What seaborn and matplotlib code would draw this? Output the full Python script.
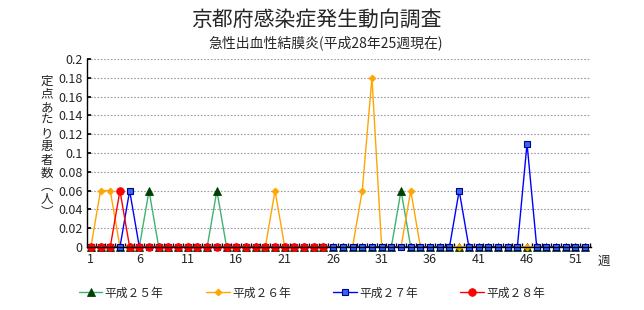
import matplotlib
matplotlib.use("Agg")
import matplotlib.pyplot as plt
import seaborn as sns
import numpy as np
import pandas as pd

weeks = list(range(1, 53))
h25 = [0, 0, 0, 0, 0, 0, 0.06, 0, 0, 0, 0, 0, 0, 0.06, 0, 0, 0, 0, 0, 0,
       0, 0, 0, 0, 0, 0, 0, 0, 0, 0, 0, 0, 0.06, 0, 0, 0, 0, 0, 0, 0,
       0, 0, 0, 0, 0, 0, 0, 0, 0, 0, 0, 0]
h26 = [0, 0.06, 0.06, 0, 0, 0, 0, 0, 0, 0, 0, 0, 0, 0, 0, 0, 0, 0, 0, 0.06,
       0, 0, 0, 0, 0, 0, 0, 0, 0.06, 0.18, 0, 0, 0, 0.06, 0, 0, 0, 0, 0, 0,
       0, 0, 0, 0, 0, 0, 0, 0, 0, 0, 0, 0]
h27 = [0, 0, 0, 0, 0.06, 0, 0, 0, 0, 0, 0, 0, 0, 0, 0, 0, 0, 0, 0, 0,
       0, 0, 0, 0, 0, 0, 0, 0, 0, 0, 0, 0, 0, 0, 0, 0, 0, 0, 0.06, 0,
       0, 0, 0, 0, 0, 0.11, 0, 0, 0, 0, 0, 0]
h28 = [0, 0, 0, 0.06, 0, 0, 0, 0, 0, 0, 0, 0, 0, 0, 0, 0, 0, 0, 0, 0,
       0, 0, 0, 0, 0]
series_names = ["平成２５年", "平成２６年", "平成２７年", "平成２８年"]
x_tick_labels = [1, 6, 11, 16, 21, 26, 31, 36, 41, 46, 51]
y_ticks = [0, 0.02, 0.04, 0.06, 0.08, 0.1, 0.12, 0.14, 0.16, 0.18, 0.2]
title = "京都府感染症発生動向調査"
subtitle = "急性出血性結膜炎(平成28年25週現在)"
ylabel_chars = ["定", "点", "あ", "た", "り", "患", "者", "数", "︵", "人", "︶"]

sns.set_theme(style="white")
plt.rcParams['font.family'] = ['Noto Sans CJK JP', 'DejaVu Sans']

fig = plt.figure(figsize=(6.44, 3.10), dpi=100)
ax = fig.add_axes([87/644, 1-247/310, (591-87)/644, (247-59)/310])

styles = [
    dict(color="#3CB371", marker="^", mfc="#004000", mec="#004000", ms=5.5),
    dict(color="#FFA500", marker="D", mfc="#FFA500", mec="#FFA500", ms=3.5),
    dict(color="#0000FF", marker="s", mfc="#3366FF", mec="#000080", ms=5, mew=0.8),
    dict(color="#FF0000", marker="o", mfc="#FF0000", mec="#FF0000", ms=5.5),
]
data = [h25, h26, h27, h28]
for name, vals, st in zip(series_names, data, styles):
    df = pd.DataFrame({"week": weeks[:len(vals)], "val": vals})
    sns.lineplot(data=df, x="week", y="val", ax=ax, color=st["color"],
                 marker=st["marker"], markerfacecolor=st["mfc"],
                 markeredgecolor=st["mec"], markersize=st["ms"],
                 markeredgewidth=st.get("mew", 0.6), linewidth=1.0,
                 label=name, legend=False, clip_on=False)

ax.set_xlim(0.6, 52.6)
ax.set_ylim(0, 0.2)
ax.set_xticks(x_tick_labels)
ax.set_xticklabels([str(v) for v in x_tick_labels], fontsize=9)
ax.set_xticks(np.arange(1.5, 52.6, 1), minor=True)
ax.set_yticks(y_ticks)
ax.set_yticklabels(["0" if v == 0 else f"{v:g}" for v in y_ticks], fontsize=9)
ax.tick_params(axis="x", which="major", length=0, pad=4)
ax.tick_params(axis="x", which="minor", direction="in", length=3, color="black", bottom=True)
ax.tick_params(axis="y", direction="in", length=3, color="black", left=True, pad=3)
ax.set_xlabel("")
ax.set_ylabel("")
ax.grid(False)
ax.yaxis.grid(True, color="#A09AA8", linestyle=(0, (1.5, 1.5)), linewidth=0.8)
ax.set_axisbelow(True)
for s in ["top", "right"]:
    ax.spines[s].set_visible(False)
for s in ["left", "bottom"]:
    ax.spines[s].set_color("black")
    ax.spines[s].set_linewidth(1.0)

fig.text(316/644, 1-20/310, title, ha="center", va="center", fontsize=15)
fig.text(326/644, 1-43/310, subtitle, ha="center", va="center", fontsize=10)
fig.text(47/644, 1-147/310, "\n".join(ylabel_chars), ha="center", va="center",
         fontsize=9, linespacing=1.02)
fig.text(598/644, 1-261/310, "週", ha="left", va="center", fontsize=9)

handles, labels = ax.get_legend_handles_labels()
fig.legend(handles, labels, loc="center", bbox_to_anchor=(312/644, 1-293/310), ncol=4,
           frameon=False, fontsize=8.5, handlelength=2.0, handletextpad=0.2,
           columnspacing=3.6)

fig.savefig("out.png", dpi=100)
